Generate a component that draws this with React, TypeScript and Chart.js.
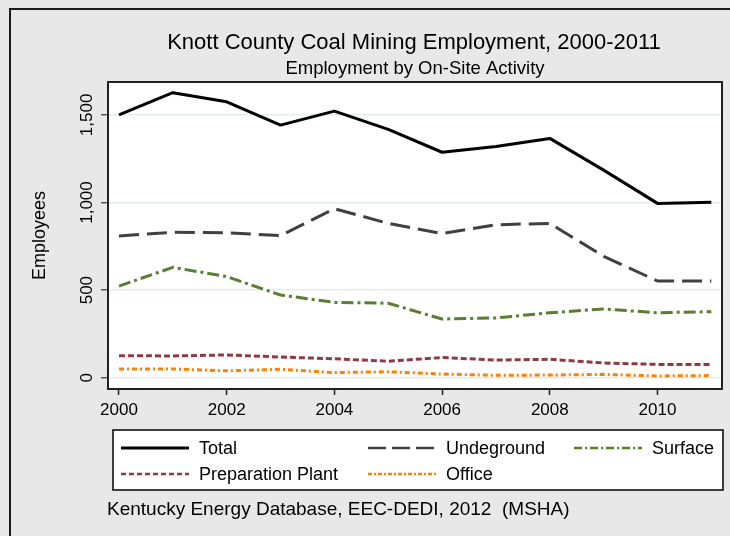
import React, { useEffect, useRef } from "react";
import { Chart, registerables } from "chart.js";

Chart.register(...registerables);

const years = [2000, 2001, 2002, 2003, 2004, 2005, 2006, 2007, 2008, 2009, 2010, 2011];
const total = [1500, 1627, 1575, 1442, 1522, 1418, 1287, 1320, 1366, 1185, 995, 1001];
const underground = [809, 830, 828, 811, 965, 881, 823, 873, 881, 693, 552, 552];
const surface = [523, 630, 577, 472, 430, 425, 335, 341, 371, 392, 371, 377];
const prepPlant = [126, 124, 130, 118, 108, 94, 115, 101, 105, 84, 76, 76];
const office = [50, 50, 39, 48, 29, 34, 21, 14, 15, 19, 10, 12];

const xTicks = [2000, 2002, 2004, 2006, 2008, 2010];
const yTicks = [0, 500, 1000, 1500];
const yTickLabels = ["0", "500", "1,000", "1,500"];

const seriesNames = ["Total", "Undeground", "Surface", "Preparation Plant", "Office"];

const titleText = "Knott County Coal Mining Employment, 2000-2011";
const subtitleText = "Employment by On-Site Activity";
const yTitle = "Employees";
const sourceText = "Kentucky Energy Database, EEC-DEDI, 2012  (MSHA)";

const FONT = "'Liberation Sans', Arial, sans-serif";

const styles = [
  { color: "#000000", dash: [] as number[], legendDash: [] as number[], width: 3 },
  { color: "#404040", dash: [20, 8], legendDash: [18, 6], width: 3 },
  { color: "#5b7d2f", dash: [12, 4, 3, 4], legendDash: [8, 3, 2, 3], width: 3 },
  { color: "#8e3a40", dash: [6, 3], legendDash: [5, 3], width: 3 },
  { color: "#ff8000", dash: [5, 3, 2, 3], legendDash: [4, 2, 2, 2], width: 3 },
];

const seriesValues = [total, underground, surface, prepPlant, office];

const decorPlugin = {
  id: "decor",
  beforeDraw(chart: any) {
    const { ctx, chartArea } = chart;
    ctx.save();
    ctx.fillStyle = "#e8e8e8";
    ctx.fillRect(0, 0, chart.width, chart.height);
    ctx.strokeStyle = "#1a1a1a";
    ctx.lineWidth = 2;
    ctx.strokeRect(10, 9, 900, 700);
    ctx.fillStyle = "#ffffff";
    ctx.fillRect(chartArea.left, chartArea.top, chartArea.right - chartArea.left, chartArea.bottom - chartArea.top);
    ctx.restore();
  },
  afterDatasetsDraw(chart: any) {
    const { ctx, chartArea } = chart;
    ctx.save();
    ctx.strokeStyle = "#202020";
    ctx.lineWidth = 2;
    ctx.strokeRect(chartArea.left, chartArea.top, chartArea.right - chartArea.left, chartArea.bottom - chartArea.top);
    ctx.restore();
  },
  afterDraw(chart: any) {
    const { ctx, chartArea, scales } = chart;
    const cx = (chartArea.left + chartArea.right) / 2;
    ctx.save();
    ctx.fillStyle = "#000";
    ctx.textAlign = "center";
    ctx.textBaseline = "alphabetic";
    ctx.font = `22px ${FONT}`;
    ctx.fillText(titleText, cx - 1, 49);
    ctx.font = `18.5px ${FONT}`;
    ctx.fillText(subtitleText, cx, 74);

    // y tick labels (rotated)
    ctx.font = `17px ${FONT}`;
    yTicks.forEach((v, i) => {
      const py = scales.y.getPixelForValue(v);
      ctx.save();
      ctx.translate(92, py);
      ctx.rotate(-Math.PI / 2);
      ctx.textAlign = "center";
      ctx.textBaseline = "alphabetic";
      ctx.fillText(yTickLabels[i], 0, 0);
      ctx.restore();
    });

    // y title
    ctx.font = `18px ${FONT}`;
    ctx.save();
    ctx.translate(45, (chartArea.top + chartArea.bottom) / 2);
    ctx.rotate(-Math.PI / 2);
    ctx.textAlign = "center";
    ctx.fillText(yTitle, 0, 0);
    ctx.restore();

    // legend
    ctx.fillStyle = "#ffffff";
    ctx.fillRect(113, 430, 610, 60);
    ctx.strokeStyle = "#000";
    ctx.lineWidth = 1.5;
    ctx.strokeRect(113, 430, 610, 60);
    const cols = [121, 368, 574];
    const rows = [448, 474];
    const lineLen = 68;
    seriesNames.forEach((name, i) => {
      const col = i < 3 ? i : i - 3;
      const row = i < 3 ? 0 : 1;
      const x0 = cols[col];
      const y0 = rows[row];
      const st = styles[i];
      ctx.save();
      ctx.strokeStyle = st.color;
      ctx.lineWidth = i === 0 ? 3 : 2.5;
      ctx.setLineDash(st.legendDash);
      ctx.beginPath();
      ctx.moveTo(x0, y0);
      ctx.lineTo(x0 + lineLen, y0);
      ctx.stroke();
      ctx.restore();
      ctx.fillStyle = "#000";
      ctx.font = `18px ${FONT}`;
      ctx.textAlign = "left";
      ctx.textBaseline = "middle";
      ctx.fillText(name, x0 + lineLen + 10, y0 + 1);
    });

    // source
    ctx.font = `19px ${FONT}`;
    ctx.textAlign = "left";
    ctx.textBaseline = "alphabetic";
    ctx.fillStyle = "#000";
    ctx.fillText(sourceText, 107, 515);
    ctx.restore();
  },
};

export default function App() {
  const ref = useRef<HTMLCanvasElement | null>(null);
  useEffect(() => {
    if (!ref.current) return;
    const datasets = seriesNames.map((name, i) => ({
      label: name,
      data: years.map((yr, j) => ({ x: yr, y: seriesValues[i][j] })),
      borderColor: styles[i].color,
      borderDash: styles[i].dash,
      borderWidth: styles[i].width,
      pointRadius: 0,
      fill: false,
      tension: 0,
      borderCapStyle: "butt",
      borderJoinStyle: "round",
    }));
    const chart = new Chart(ref.current, {
      type: "line",
      data: { datasets } as any,
      options: {
        animation: false,
        responsive: false,
        devicePixelRatio: 1,
        layout: { padding: { top: 82, left: 68, right: 8, bottom: 117 } },
        plugins: {
          legend: { display: false },
          title: { display: false },
          tooltip: { enabled: false },
        },
        scales: {
          x: {
            type: "linear",
            min: 1999.796,
            max: 2011.198,
            afterBuildTicks: (s: any) => {
              s.ticks = xTicks.map((v) => ({ value: v }));
            },
            afterFit: (s: any) => {
              s.height = 30;
            },
            grid: {
              drawOnChartArea: false,
              drawTicks: true,
              tickLength: 6,
              tickColor: "#222",
              tickWidth: 1.5,
            },
            border: { display: false },
            ticks: {
              font: { family: FONT, size: 17 },
              color: "#000",
              padding: 5,
              maxRotation: 0,
              autoSkip: false,
              callback: (v: any) => String(v),
            },
          },
          y: {
            type: "linear",
            min: -64.5,
            max: 1688,
            afterBuildTicks: (s: any) => {
              s.ticks = yTicks.map((v) => ({ value: v }));
            },
            afterFit: (s: any) => {
              s.width = 40;
            },
            grid: {
              color: "#e4eded",
              lineWidth: 1.5,
              drawTicks: true,
              tickLength: 7,
              tickColor: "#333",
              tickWidth: 1.2,
            },
            border: { display: false },
            ticks: { display: false },
          },
        },
      } as any,
      plugins: [decorPlugin],
    });
    return () => chart.destroy();
  }, []);
  return (
    <div style={{ position: "absolute", left: 0, top: 0, width: 730, height: 536 }}>
      <canvas ref={ref} width={730} height={536} style={{ display: "block", width: 730, height: 536 }} />
    </div>
  );
}
